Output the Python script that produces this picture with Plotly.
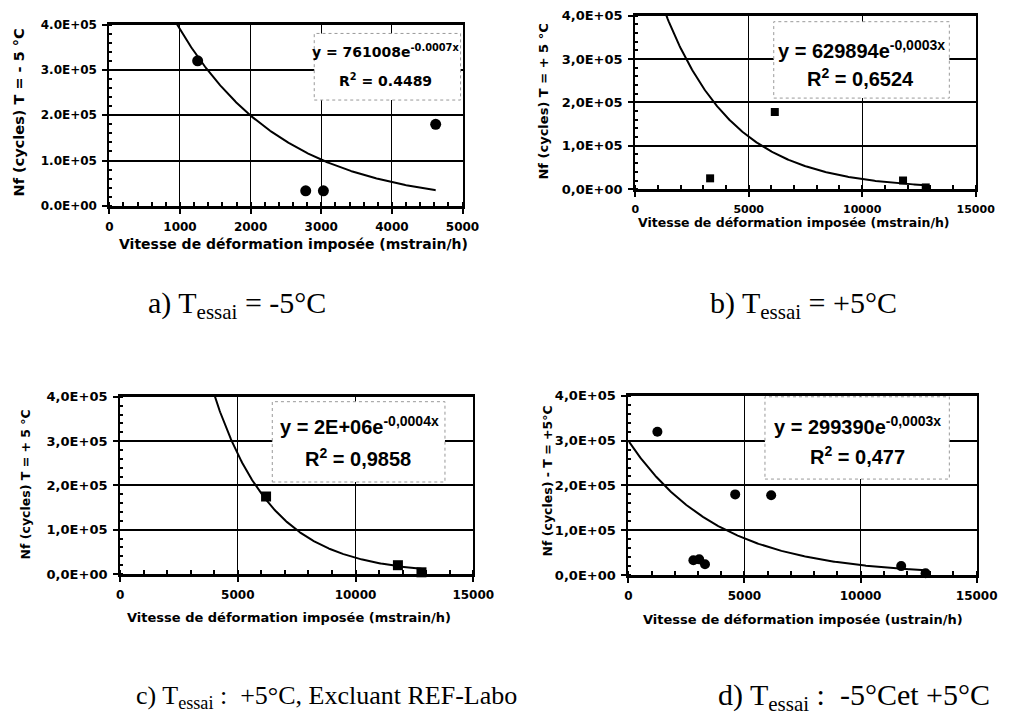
import numpy as np
import plotly.graph_objects as go

W, H = 1024, 728
def px(x): return x / W
def py(y): return 1 - y / H

# ---------------- data ----------------
# a) -5 °C
a_x = [1250, 2780, 3030, 4620]
a_y = [320000, 33000, 33000, 180000]
a_A, a_b, a_x0, a_x1 = 761008, 0.00067, 950, 4620
# b) +5 °C
b_x = [3300, 6150, 11800, 12800]
b_y = [25000, 178000, 20000, 4000]
b_A, b_b, b_x0, b_x1 = 629894, 0.00033, 1000, 12800
# c) +5 °C excluding REF-Labo
c_x = [6200, 11800, 12800]
c_y = [175000, 20000, 4000]
c_A, c_b, c_x0, c_x1 = 2.0e6, 0.0004, 3800, 12800
# d) -5 °C and +5 °C
d_x = [1250, 2800, 3050, 3300, 4600, 6150, 11750, 12800]
d_y = [320000, 33000, 35000, 24000, 180000, 178000, 20000, 4000]
d_A, d_b, d_x0, d_x1 = 299390, 0.00026, 0, 12800

y_vals = [0, 100000, 200000, 300000, 400000]
y_text_dot = ["0.0E+00", "1.0E+05", "2.0E+05", "3.0E+05", "4.0E+05"]
y_text_comma = ["0,0E+00", "1,0E+05", "2,0E+05", "3,0E+05", "4,0E+05"]

eq1 = ["y = 761008e<sup>-0.0007x</sup>", "y = 629894e<sup>-0,0003x</sup>",
       "y = 2E+06e<sup>-0,0004x</sup>", "y = 299390e<sup>-0,0003x</sup>"]
eq2 = ["R<sup>2</sup> = 0.4489", "R<sup>2</sup> = 0,6524",
       "R<sup>2</sup> = 0,9858", "R<sup>2</sup> = 0,477"]

ytitles = ["Nf (cycles) T = - 5 °C", "Nf (cycles) T = + 5 °C",
           "Nf (cycles) T = + 5 °C", "Nf (cycles) - T = +5°C"]
xtitle_m = "Vitesse de déformation imposée (mstrain/h)"
xtitle_u = "Vitesse de déformation imposée (ustrain/h)"
xtitles = [xtitle_m, xtitle_m, xtitle_m, xtitle_u]

captions = ["a) T<sub>essai</sub> = -5°C", "b) T<sub>essai</sub> = +5°C",
            "c) T<sub>essai</sub> :  +5°C, Excluant REF-Labo", "d) T<sub>essai</sub> :  -5°Cet +5°C"]

# ---------------- layout geometry (px) ----------------
panels = [
    dict(n="", xs=a_x, ys=a_y, A=a_A, b=a_b, x0=a_x0, x1=a_x1, sym="circle", msz=11,
         xd=(108, 470), yd=(18, 203), xmax=5000, xdt=1000, xminor=200,
         ytt=y_text_dot, xfs=12, yfs=12),
    dict(n="2", xs=b_x, ys=b_y, A=b_A, b=b_b, x0=b_x0, x1=b_x1, sym="square", msz=8,
         xd=(647, 996), yd=(9, 186), xmax=15000, xdt=5000, xminor=1000,
         ytt=y_text_comma, xfs=11, yfs=13),
    dict(n="3", xs=c_x, ys=c_y, A=c_A, b=c_b, x0=c_x0, x1=c_x1, sym="square", msz=10,
         xd=(119, 481), yd=(398, 579), xmax=15000, xdt=5000, xminor=1000,
         ytt=y_text_comma, xfs=12, yfs=13),
    dict(n="4", xs=d_x, ys=d_y, A=d_A, b=d_b, x0=d_x0, x1=d_x1, sym="circle", msz=10,
         xd=(640, 997), yd=(397, 580), xmax=15000, xdt=5000, xminor=1000,
         ytt=y_text_comma, xfs=12, yfs=13),
]

fig = go.Figure()

def bfont(size, family="DejaVu Sans"):
    return dict(family=family, size=size, color="black", weight="bold")

for p in panels:
    n = p["n"]
    fx = np.linspace(p["x0"], p["x1"], 300)
    fy = p["A"] * np.exp(-p["b"] * fx)
    fig.add_trace(go.Scatter(x=fx, y=fy, mode="lines", line=dict(color="black", width=2),
                             xaxis="x" + n, yaxis="y" + n, showlegend=False, hoverinfo="skip"))
    fig.add_trace(go.Scatter(x=p["xs"], y=p["ys"], mode="markers",
                             marker=dict(symbol=p["sym"], size=p["msz"], color="black"),
                             xaxis="x" + n, yaxis="y" + n, showlegend=False, cliponaxis=False))
    xd, yd = p["xd"], p["yd"]
    fig.layout["xaxis" + n] = dict(
        domain=[px(xd[0]), px(xd[1])], range=[0, p["xmax"]], anchor="y" + n,
        tickmode="linear", tick0=0, dtick=p["xdt"], tickformat="d",
        showline=True, linecolor="black", linewidth=2.5, mirror=True,
        showgrid=True, gridcolor="black", gridwidth=1.3, zeroline=False,
        ticks="outside", ticklen=5, tickwidth=2, tickcolor="black",
        ticklabelstandoff=3, tickfont=bfont(p["xfs"]),
        minor=dict(dtick=p["xminor"], ticks="inside",
                   ticklen=4, tickwidth=2, tickcolor="black", showgrid=False))
    fig.layout["yaxis" + n] = dict(
        domain=[py(yd[1]), py(yd[0])], range=[0, 400000], anchor="x" + n,
        tickmode="array", tickvals=y_vals, ticktext=p["ytt"],
        showline=True, linecolor="black", linewidth=2, mirror=True,
        showgrid=True, gridcolor="black", gridwidth=2, zeroline=False,
        ticks="outside", ticklen=5, tickwidth=2, tickcolor="black",
        ticklabelstandoff=3, tickfont=bfont(p["yfs"]),
        minor=dict(dtick=20000, ticks="inside",
                   ticklen=3, tickwidth=1.5, tickcolor="black", showgrid=False))

shapes = []
annotations = []

def ann(text, x, y, font, angle=0):
    annotations.append(dict(text=text, x=px(x), y=py(y), xref="paper", yref="paper",
                            showarrow=False, textangle=angle, xanchor="center",
                            yanchor="middle", font=font))

# equation boxes (px): x0, x1, y0, y1
boxes = [(318, 468, 27, 95), (789, 969, 15, 93), (275, 452, 403, 485), (780, 969, 398, 482)]
for (x0, x1, y0, y1) in boxes:
    shapes.append(dict(type="rect", xref="paper", yref="paper",
                       x0=px(x0), x1=px(x1), y0=py(y1), y1=py(y0),
                       fillcolor="white", line=dict(color="#999999", width=1, dash="dot"),
                       layer="above"))

eq_pos = [(391, 45, 391, 75, bfont(14)),
          (879, 43, 878, 72, bfont(20, "Liberation Sans")),
          (364, 427, 363, 460, bfont(20, "Liberation Sans")),
          (875, 427, 875, 458, bfont(20, "Liberation Sans"))]
for i, (x1, y1, x2, y2, f) in enumerate(eq_pos):
    ann(eq1[i], x1, y1, f)
    ann(eq2[i], x2, y2, f)

yt_pos = [(15, 108, 14.5), (552, 97, 13), (23, 487, 12.5), (557, 484, 12.5)]
for i, (x, y, s) in enumerate(yt_pos):
    ann(ytitles[i], x, y, bfont(s), angle=-90)

xt_pos = [(297, 242, 14), (810, 220, 12.5), (292, 623, 13), (819, 625, 13)]
for i, (x, y, s) in enumerate(xt_pos):
    ann(xtitles[i], x, y, bfont(s))

cap_pos = [(239, 304, 30), (820, 304, 30), (331, 705, 26), (871, 705, 30)]
for i, (x, y, s) in enumerate(cap_pos):
    ann(captions[i], x, y, dict(family="Liberation Serif", size=s, color="black"))

fig.update_layout(width=W, height=H, margin=dict(l=0, r=0, t=0, b=0),
                  paper_bgcolor="white", plot_bgcolor="white",
                  shapes=shapes, annotations=annotations, showlegend=False)

fig.write_html("out.html", config={"displayModeBar": False})
